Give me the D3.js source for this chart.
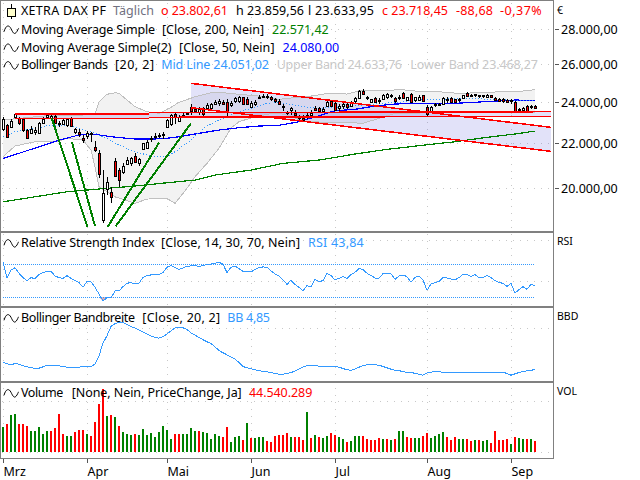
<!DOCTYPE html>
<html>
<head>
<meta charset="utf-8">
<script src="https://cdnjs.cloudflare.com/ajax/libs/d3/7.8.5/d3.min.js"></script>
<style>
  html, body { margin: 0; padding: 0; background: #fff; }
  svg { display: block; font-family: "Noto Sans", sans-serif; font-size: 12.5px; }
  .crisp { shape-rendering: crispEdges; }
</style>
</head>
<body>
<div id="chart"></div>
<script>
// price candles, one value per trading day (3 Mar .. 9 Sep)
var open = [22637,22862,22779,23236,23187,23131,22637,22492,22525,22464,22944,23236,23217,23300,22973,22910,22847,23187,22525,22540,22256,22350,22464,21808,21533,18698,19996,19853,21185,20785,20711,21051,21082,21411,21082,21715,21808,22194,22275,22303,22384,22750,22910,23399,23069,23266,23399,23733,23663,23464,23683,23683,23683,23900,23966,24000,24000,23865,24016,24016,24238,24135,23765,23900,24269,24269,24320,24238,24135,24067,23799,23498,23563,23464,23266,23187,23236,23350,23713,23683,23563,23799,24067,23935,23698,23799,23900,23799,24016,24238,24582,24238,24000,24218,24102,24168,24238,24338,24188,24203,24477,24067,24405,24067,24135,24338,23765,23563,23834,23850,23900,24135,24203,24135,24102,24168,24477,24370,24338,24338,24287,24269,24338,24188,24152,24135,24102,24052,24000,23563,23597,23799,23733,23803];
var high = [23266,22910,23131,23434,23266,23187,22685,22813,22779,23021,23236,23434,23365,23335,23069,23167,23187,23266,22716,22650,22384,22558,22525,22115,21683,20785,20494,20040,21306,20860,21082,21352,21379,21533,21306,22022,22147,22336,22464,22464,22540,23131,23399,23434,23350,23434,23513,23900,23733,23733,23733,23935,23966,24102,24135,24102,24135,24067,24269,24304,24269,24238,24036,24102,24355,24405,24405,24304,24203,24135,23900,23563,23733,23597,23350,23350,23434,23597,23799,23733,23733,24067,24102,24000,23900,23966,23966,24036,24238,24617,24652,24304,24168,24269,24188,24405,24440,24405,24238,24338,24510,24269,24440,24269,24338,24370,23834,23799,23935,23966,24269,24269,24238,24168,24188,24370,24510,24405,24405,24370,24370,24405,24370,24238,24203,24203,24135,24135,24067,23683,23733,23834,23834,23860];
var low = [22587,22303,22750,23167,22847,22540,22180,22431,22398,22431,22910,23187,23167,22910,22779,22847,22779,22779,22431,22303,21994,22180,22068,21606,20430,18570,19716,19372,20524,20040,20611,21007,20963,21082,20963,21683,21762,22068,22180,22227,22180,22750,22813,22910,23021,23236,23350,23350,23464,23350,23300,23597,23632,23850,23799,23834,23266,23765,23935,23935,23865,23834,23733,23799,24135,24188,24168,24067,23966,23865,23563,23350,23350,23266,23069,23021,23137,23202,23563,23464,23464,23765,23799,23563,23513,23632,23632,23733,23966,24203,24370,24102,23935,23966,23900,24135,24168,24188,23935,24102,24203,24036,24000,24016,24067,24000,23316,23513,23765,23799,23834,23966,23966,23935,24016,24135,24269,24238,24238,24203,24188,24238,24203,24036,24000,23966,23935,23900,23464,23498,23563,23530,23632,23634];
var close = [23131,22303,23069,23399,22944,22587,22275,22683,22637,22944,23131,23350,23316,22973,22910,23103,23131,22779,22650,22431,22147,22492,22398,21683,20611,19786,20278,19642,20524,20350,20963,21229,21306,21154,21261,21994,22068,22256,22336,22369,22445,23103,23350,23266,23266,23350,23464,23513,23563,23632,23399,23834,23900,24016,24067,23900,23563,23966,24188,24238,23900,23900,23966,24016,24203,24320,24269,24135,24016,23935,23733,23434,23683,23350,23202,23103,23350,23448,23632,23513,23648,24016,23834,23597,23799,23900,23733,23966,24188,24582,24405,24168,24135,24016,24036,24370,24405,24269,24016,24269,24238,24238,24016,24238,24269,24016,23434,23765,23900,23915,24188,24067,24000,23966,24152,24338,24338,24320,24390,24287,24338,24370,24238,24102,24067,24052,24000,24102,23498,23632,23698,23563,23807,23718];

var sma200Day = [0,8,16,23,33,41,48,53,62,70,79,88,96,104,113,121,128,133];
var sma200 = [19437,19642,19853,19954,20095,20235,20350,20568,20785,21082,21229,21502,21715,21883,22068,22275,22431,22571.42];
var sma50Day = [0,4,9,14,19,23,27,33,37,40,44,49,54,59,64,69,74,79,83,88,93,98,104,113,119,128,133];
var sma50 = [21306,21533,21836,22147,22384,22417,22303,22194,22194,22209,22303,22464,22620,22731,22813,22847,23021,23316,23563,23632,23799,23900,23935,23935,24000,24102,24080];
var bbMidDay = [0,3,8,12,16,19,23,26,28,33,37,41,43,47,50,53,56,59,63,66,69,73,76,79,84,90,95,100,104,110,118,126,133];
var bbMid = [22303,22540,22701,22862,22862,22701,22464,22227,21994,21606,21411,21379,21606,22147,22701,23021,23266,23513,23733,23935,23966,23850,23733,23683,23750,23850,23935,24000,24135,24152,24168,24102,24051.02];
var bbUpperDay = [0,5,10,15,20,23,24,26,28,29,33,36,39,42,44,48,52,55,59,64,69,73,77,80,83,86,89,96,99,104,109,114,119,124,128,133];
var bbUpper = [23103,23202,23300,23350,23350,23399,24016,24395,24477,24444,23765,23513,23434,23733,23985,24269,24477,24477,24395,24304,24135,24230,24304,24405,24460,24405,24576,24576,24650,24546,24525,24444,24477,24525,24525,24633.76];
var bbLowerDay = [0,3,8,14,16,20,22,23,24,28,33,36,41,43,46,48,51,54,57,59,63,67,70,73,75,79,84,90,94,98,104,112,120,127,133];
var bbLower = [21379,21869,22068,22100,22227,22147,21683,20932,20065,19642,19372,19549,19577,19372,19996,20494,21082,21763,22716,23021,23266,23424,23399,23202,23055,23006,23006,22944,23187,23434,23449,23473,23498,23449,23468.27];

// drawing tools: [day, price, day, price]
var greenLines = [[12.2,23187,21.1,18435],[17.2,22068,23,18462],[26.2,18435,39,22022],[28.2,18462,47,22944]];
var redChannels = [
  [[3,23399,36.5,23399],[3,23187,36.5,23187]],
  [[36.5,23463,137,23514],[36.5,23236,137,23285]],
  [[47,24968,137,22750],[47,23715,137,21624]]
];

var rsi = [73.2,53.8,63.1,65.9,59.1,53.8,50.2,53.8,52.6,57.9,59.9,61.5,61.5,55.8,53.8,53.0,56.3,53.0,50.2,47.8,42.1,49.4,48.6,42.1,34.0,25.5,29.6,29.2,37.7,37.7,42.9,47.0,47.8,46.2,47.0,54.2,56.3,57.1,57.1,57.9,59.9,66.4,68.4,65.9,63.9,65.5,67.6,68.0,68.8,67.2,68.4,69.6,70.4,71.2,72.4,70.0,59.9,66.4,68.0,64.7,61.5,60.7,60.7,63.9,65.9,66.8,66.4,61.9,58.3,55.8,51.0,45.7,50.6,45.7,42.1,37.7,44.1,42.9,51.8,49.0,50.2,59.1,56.3,51.0,53.0,55.0,53.0,57.5,60.3,64.7,63.9,59.1,56.3,53.4,53.0,58.7,59.1,58.3,51.8,55.8,57.1,55.0,48.2,54.2,55.8,51.0,38.5,46.2,47.8,49.0,53.8,53.4,52.2,51.0,53.8,57.9,57.5,55.4,57.5,53.8,54.2,56.3,53.8,50.2,47.8,47.0,43.3,47.0,35.2,39.3,42.9,39.7,45.7,43.84];
var bandwidth = [7.44,6.83,6.46,6.95,6.70,6.09,5.71,5.34,5.22,5.22,5.71,6.33,6.33,6.33,6.09,5.84,5.59,5.59,5.34,5.59,5.96,5.84,5.84,6.70,9.79,14.48,17.20,20.66,21.65,22.14,22.02,21.40,20.66,20.04,19.30,18.56,17.82,17.08,16.58,16.34,16.83,17.82,19.05,20.04,20.41,20.16,19.55,18.19,17.45,16.58,15.72,14.98,14.36,13.12,11.77,10.90,10.16,9.42,8.56,7.32,5.84,5.34,4.97,4.60,4.23,4.11,3.86,3.62,3.24,3.00,3.00,3.24,3.62,4.11,4.85,5.71,6.09,6.33,6.21,5.96,5.96,5.96,5.96,5.96,5.59,5.10,4.60,4.48,4.85,5.59,6.21,6.46,6.70,6.46,6.33,5.84,5.34,4.85,4.48,4.36,3.86,3.74,3.74,3.24,3.00,2.63,3.49,3.74,4.11,3.86,3.74,3.49,3.49,3.49,3.49,3.49,3.74,3.74,3.74,3.74,3.74,3.74,3.74,3.74,3.74,3.74,3.24,2.63,3.12,3.62,3.99,4.23,4.36,4.85];
// million shares
var volume = [97.5,107.9,144.3,148.2,109.2,109.2,101.4,81.9,81.9,97.5,70.2,81.9,81.9,94.9,148.2,70.2,62.4,62.4,78,85.8,85.8,70.2,62.4,117,187.2,245.7,140.4,144.3,136.5,101.4,78,70.2,66.3,70.2,66.3,89.7,66.3,74.1,59.8,78,101.4,85.8,50.7,70.2,70.2,70.2,70.2,93.6,81.9,81.9,78,74.1,50.7,70.2,62.4,58.5,97.5,39,58.5,62.4,46.8,113.1,54.6,54.6,58.5,58.5,42.9,39,62.4,66.3,66.3,74.1,58.5,58.5,58.5,46.8,156,54.6,66.3,58.5,54.6,62.4,74.1,66.3,58.5,50.7,39,42.9,62.4,62.4,62.4,50.7,46.8,46.8,54.6,50.7,50.7,46.8,50.7,81.9,81.9,58.5,54.6,54.6,54.6,62.4,74.1,54.6,62.4,70.2,78,58.5,46.8,58.5,50.7,50.7,50.7,42.9,46.8,46.8,42.9,46.8,35.1,81.9,46.8,46.8,50.7,31.2,58.5,54.6,50.7,50.7,50.7,44.54];
var volumeDir = "grggrrrggg" + "ggrrrrggrr" + "rgrrrrgrgr" + "gggrgggggg" + "gggrrggggr" + "gggggrrggg" + "rgrgggrrrr" + "rrgrrrgrgr" + "ggrrggrggg" + "rrrrrgrgrg" + "grrggrrggg" + "grrrggrrgr" + "ggrrrrrgrg" + "grgr";

var months = ["Mrz", "Apr", "Mai", "Jun", "Jul", "Aug", "Sep"];
var monthDay = [0, 21, 41, 62, 83, 106, 127];
var priceTicks = [20000, 22000, 24000, 26000, 28000];

var width = 640, height = 480;
var plotRight = 553;
var RED = "#ff0000", GREEN = "#008000", BLUE = "#0000ff", SKY = "#3399ff", BAND = "#c0c0c0";
var FONT = "Noto Sans";

var de = d3.formatLocale({decimal: ",", thousands: ".", grouping: [3], currency: ["", ""]});
var fmt = de.format(",.2f");

var svg = d3.select("#chart").append("svg")
  .attr("width", width)
  .attr("height", height);

var x = d3.scaleLinear().domain([0, 133]).range([3, 535]);
var y = d3.scaleLog().domain([18350, 29590]).range([229, 3]);
var yRsi = d3.scaleLinear().domain([19.45, 107.9]).range([306, 233]);
var yBw = d3.scaleLinear().domain([0, 27.1]).range([382.3, 309]);
var yVol = d3.scaleLinear().domain([0, 269]).range([452, 383]);

// dotted grid
function gridH(yScale, values) {
  svg.append("g").attr("class", "crisp").selectAll("line").data(values).enter().append("line")
    .attr("x1", 2).attr("x2", plotRight)
    .attr("y1", function(d) { return Math.round(yScale(d)) + 0.5; })
    .attr("y2", function(d) { return Math.round(yScale(d)) + 0.5; })
    .attr("stroke", "#c8c8c8").attr("stroke-dasharray", "1 6");
}
gridH(y, priceTicks);
gridH(yRsi, [50, 100]);
gridH(yBw, [20]);
gridH(yVol, [0, 200]);

svg.append("g").attr("class", "crisp").selectAll("line").data(monthDay).enter().append("line")
  .attr("x1", function(d) { return Math.round(x(d)) + 0.5; })
  .attr("x2", function(d) { return Math.round(x(d)) + 0.5; })
  .attr("y1", 3).attr("y2", 458)
  .attr("stroke", "#c8c8c8").attr("stroke-dasharray", "1 6");

// bollinger band fill: upper knots forward, lower knots back
var bandOutline = bbUpperDay.map(function(d, i) { return [x(d), y(bbUpper[i])]; })
  .concat(bbLowerDay.map(function(d, i) { return [x(d), y(bbLower[i])]; }).reverse());
svg.append("path")
  .attr("fill", "#f2f2f2")
  .attr("d", d3.line()(bandOutline) + "Z");

function overlay(days, vals, color, yScale, dash, sw) {
  var line = d3.line()
    .x(function(d) { return x(d); })
    .y(function(d, i) { return yScale(vals[i]); });
  return svg.append("path")
    .attr("class", "crisp")
    .attr("d", line(days))
    .attr("fill", "none")
    .attr("stroke", color)
    .attr("stroke-width", sw || 1)
    .attr("stroke-dasharray", dash || null);
}

// channel fills go under the candles
redChannels.forEach(function(c) {
  svg.append("path")
    .attr("d", "M" + x(c[0][0]) + "," + y(c[0][1]) + "L" + x(c[0][2]) + "," + y(c[0][3]) +
      "L" + x(c[1][2]) + "," + y(c[1][3]) + "L" + x(c[1][0]) + "," + y(c[1][1]) + "Z")
    .attr("fill", "#6060e0").attr("fill-opacity", 0.18);
});

overlay(bbUpperDay, bbUpper, BAND, y);
overlay(bbLowerDay, bbLower, BAND, y);
overlay(sma200Day, sma200, GREEN, y, null, 1.2);
overlay(sma50Day, sma50, BLUE, y, null, 1.2);
overlay(bbMidDay, bbMid, SKY, y, "1 2", 1);

// candles
var days = d3.range(0, open.length);
var candles = svg.append("g").attr("class", "crisp");
candles.selectAll("line").data(days).enter().append("line")
  .attr("x1", function(i) { return Math.round(x(i)) + 0.5; })
  .attr("x2", function(i) { return Math.round(x(i)) + 0.5; })
  .attr("y1", function(i) { return y(high[i]); })
  .attr("y2", function(i) { return y(low[i]); })
  .attr("stroke", "#000");
candles.selectAll("rect").data(days).enter().append("rect")
  .attr("x", function(i) { return Math.round(x(i)) - 0.5; })
  .attr("width", 2)
  .attr("y", function(i) { return Math.round(y(Math.max(open[i], close[i]))) + 0.5; })
  .attr("height", function(i) { return Math.max(1, Math.round(Math.abs(y(open[i]) - y(close[i])))); })
  .attr("fill", function(i) { return close[i] >= open[i] ? "#fff" : RED; })
  .attr("stroke", "#000");

// drawing tools
redChannels.forEach(function(c) {
  c.forEach(function(l) {
    svg.append("line").attr("class", "crisp")
      .attr("x1", x(l[0])).attr("y1", y(l[1]))
      .attr("x2", x(l[2])).attr("y2", y(l[3]))
      .attr("stroke", RED).attr("stroke-width", 1.5);
  });
});
greenLines.forEach(function(l) {
  svg.append("line").attr("class", "crisp")
    .attr("x1", x(l[0])).attr("y1", y(l[1]))
    .attr("x2", x(l[2])).attr("y2", y(l[3]))
    .attr("stroke", GREEN).attr("stroke-width", 2);
});

// rsi pane
svg.append("path").datum(days)
  .attr("fill", "#e8a8a8")
  .attr("d", d3.area()
    .x(function(i) { return x(i); })
    .y0(yRsi(30))
    .y1(function(i) { return yRsi(Math.min(rsi[i], 30)); }));
[30, 70].forEach(function(level) {
  svg.append("line").attr("class", "crisp")
    .attr("x1", x(0)).attr("x2", x(133))
    .attr("y1", Math.round(yRsi(level)) + 0.5).attr("y2", Math.round(yRsi(level)) + 0.5)
    .attr("stroke", SKY).attr("stroke-dasharray", "1 1");
});
overlay(days, rsi, SKY, yRsi);

// bandwidth pane
overlay(days, bandwidth, SKY, yBw);

// volume pane
svg.append("g").attr("class", "crisp").selectAll("rect").data(days).enter().append("rect")
  .attr("x", function(i) { return x(i) - 1; })
  .attr("width", 2)
  .attr("y", function(i) { return yVol(volume[i]); })
  .attr("height", function(i) { return yVol(0) - yVol(volume[i]); })
  .attr("fill", function(i) { return volumeDir.charAt(i) === "g" ? GREEN : RED; });

// pane frames
var frame = svg.append("g").attr("class", "crisp");
[[0, 0, plotRight + 1, 1], [0, 231, plotRight + 1, 2], [0, 306, plotRight + 1, 2], [0, 381, plotRight + 1, 2], [0, 458, plotRight + 1, 1],
 [0, 0, 1, 458], [plotRight, 0, 1, 459]].forEach(function(r) {
  frame.append("rect").attr("x", r[0]).attr("y", r[1]).attr("width", r[2]).attr("height", r[3]).attr("fill", "#808080");
});

// axes
var priceAxis = d3.axisRight(y).tickValues(priceTicks).tickSize(4).tickPadding(2).tickFormat(fmt);
svg.append("g").attr("transform", "translate(555,0)").call(priceAxis)
  .call(function(g) { g.select(".domain").remove(); })
  .call(function(g) { g.selectAll("text").attr("font-family", FONT).attr("font-size", 12.5).attr("fill", "#000"); })
  .call(function(g) { g.selectAll("line").attr("class", "crisp").attr("stroke", "#555"); });

var monthAxis = d3.axisBottom(x).tickValues(monthDay).tickSize(4).tickPadding(4)
  .tickFormat(function(d, i) { return months[i]; });
svg.append("g").attr("transform", "translate(0,459)").call(monthAxis)
  .call(function(g) { g.select(".domain").remove(); })
  .call(function(g) { g.selectAll("line").attr("class", "crisp").attr("stroke", "#555"); })
  .call(function(g) {
    g.selectAll("text").attr("text-anchor", "start").attr("font-family", FONT).attr("font-size", 12.5).attr("fill", "#000");
  });

// header legends; the fourth field pins the width seen in the original font
var wave = "M0,6 C2,-1 5,-1 7,3 S10,9 12,7 S14,2 15,3";
function legend(baseline, parts, icon) {
  if (icon !== false) {
    svg.append("path")
      .attr("transform", "translate(4," + (baseline - 8) + ")")
      .attr("d", wave).attr("fill", "none").attr("stroke", "#000").attr("stroke-width", 1);
  }
  parts.forEach(function(p) {
    var t = svg.append("text")
      .attr("x", p[0]).attr("y", baseline)
      .attr("fill", p[2] || "#000")
      .text(p[1]);
    if (p[3]) t.attr("textLength", p[3]).attr("lengthAdjust", "spacing");
  });
}

// instrument icon
svg.append("line").attr("class", "crisp").attr("x1", 11.5).attr("x2", 11.5).attr("y1", 4).attr("y2", 19).attr("stroke", "#000");
svg.append("rect").attr("class", "crisp").attr("x", 7.5).attr("y", 8.5).attr("width", 8).attr("height", 8).attr("fill", "#ffffcc").attr("stroke", "#000");

legend(15, [
  [21, "XETRA DAX PF", "#000", 85], [113, "Täglich", "#707080", 41],
  [161, "o 23.802,61", RED, 67], [236, "h 23.859,56", "#000", 68], [308, "l 23.633,95", "#000", 66],
  [382, "c 23.718,45", RED, 66], [456, "-88,68", RED, 37], [500, "-0,37%", RED, 41.7]
], false);
legend(33.7, [[21, "Moving Average Simple", "#000", 134], [162, "[Close, 200, Nein]", "#000", 102], [272, "22.571,42", GREEN]]);
legend(51.7, [[21, "Moving Average Simple(2)", "#000", 150.5], [179, "[Close, 50, Nein]", "#000", 95.5], [282.5, "24.080,00", BLUE]]);
legend(69.3, [[21, "Bollinger Bands", "#000", 87], [115, "[20, 2]", "#000", 39], [161.3, "Mid Line 24.051,02", SKY, 107.7], [276.7, "Upper Band 24.633,76", "#c8c8c8", 125.3], [410.3, "Lower Band 23.468,27", "#c8c8c8", 127.7]]);
legend(247.3, [[21, "Relative Strength Index", "#000", 133.7], [161, "[Close, 14, 30, 70, Nein]", "#000", 139], [308, "RSI 43,84", SKY, 55.7]]);
legend(322.3, [[21, "Bollinger Bandbreite", "#000", 114], [142.3, "[Close, 20, 2]", "#000", 77.7], [227.3, "BB 4,85", SKY, 42.7]]);
legend(397.3, [[21, "Volume", "#000", 42.3], [71.7, "[None, Nein, PriceChange, Ja]", "#000", 170], [249, "44.540.289", RED, 63.3]]);

// right side captions
[["€", 14], ["RSI", 244.7], ["BBD", 320], ["VOL", 395]].forEach(function(c) {
  svg.append("text").attr("x", 557).attr("y", c[1]).attr("font-size", 10.5).attr("fill", "#000").text(c[0]);
});
</script>
</body>
</html>
